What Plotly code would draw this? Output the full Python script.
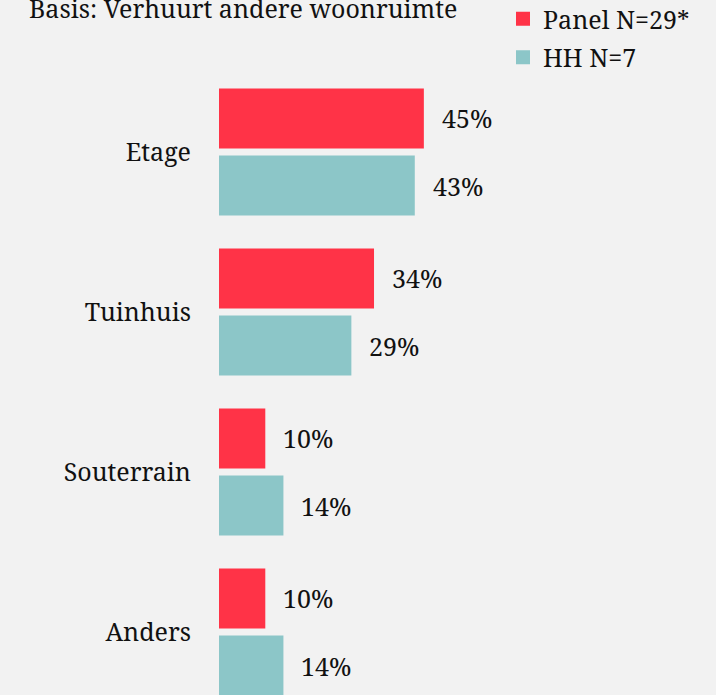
import plotly.graph_objects as go

categories = ["Etage", "Tuinhuis", "Souterrain", "Anders"]
panel_values = [45, 34, 10, 10]
hh_values = [43, 29, 14, 14]
panel_name = "Panel N=29*"
hh_name = "HH N=7"
title_text = "Basis: Verhuurt andere woonruimte"

RED = "#ff3347"
TEAL = "#8cc6c8"
BG = "#f2f2f2"
FONT = "Noto Serif"
FS = 25
TXT = "#111111"

W, H = 716, 695
ML, MT = 219, 72
PH = H - MT
PW = W - ML

fig = go.Figure()
fig.add_trace(go.Bar(y=categories, x=panel_values, name=panel_name, orientation="h",
                     marker=dict(color=RED, line=dict(color=RED, width=2)), legendgroup="a"))
fig.add_trace(go.Bar(y=categories, x=hh_values, name=hh_name, orientation="h",
                     marker=dict(color=TEAL, line=dict(color=TEAL, width=2)), legendgroup="b"))

annotations = []
for i, c in enumerate(categories):
    for v, off in ((panel_values[i], -0.21), (hh_values[i], 0.21)):
        annotations.append(dict(x=v, y=i + off, xref="x", yref="y", text=f"{v}%",
                                showarrow=False, xanchor="left", yanchor="middle", xshift=17,
                                font=dict(family=FONT, size=FS, color=TXT)))

annotations.append(dict(x=(27 - ML) / PW, y=1 + (MT - 8) / PH, xref="paper", yref="paper",
                        text=title_text, showarrow=False, xanchor="left", yanchor="middle",
                        font=dict(family=FONT, size=FS, color=TXT)))

fig.update_layout(
    width=W, height=H,
    margin=dict(l=ML, r=0, t=MT, b=0, pad=0, autoexpand=False),
    paper_bgcolor=BG, plot_bgcolor=BG,
    barmode="group", bargap=0.1625, bargroupgap=0.134,
    font=dict(family=FONT, size=FS, color=TXT),
    showlegend=True,
    legend=dict(x=(503 - ML) / PW, xanchor="left", y=1 + (MT + 4) / PH, yanchor="top",
                traceorder="grouped", tracegroupgap=3, bgcolor="rgba(0,0,0,0)",
                font=dict(family=FONT, size=FS, color=TXT)),
    annotations=annotations,
)
fig.update_xaxes(range=[0, PW / 4.53], showgrid=False, zeroline=False, showticklabels=False,
                 showline=False, ticks="", automargin=False, fixedrange=True)
fig.update_yaxes(type="category", categoryorder="array", categoryarray=categories,
                 range=[-0.5 + PH / 160, -0.5], showgrid=False, zeroline=False,
                 showline=False, ticks="", ticklabelstandoff=27, automargin=False, fixedrange=True,
                 tickfont=dict(family=FONT, size=FS, color=TXT))

fig.write_html("out.html", config={"displayModeBar": False},
               post_script="document.body.style.margin='0';document.body.style.overflow='hidden';")
